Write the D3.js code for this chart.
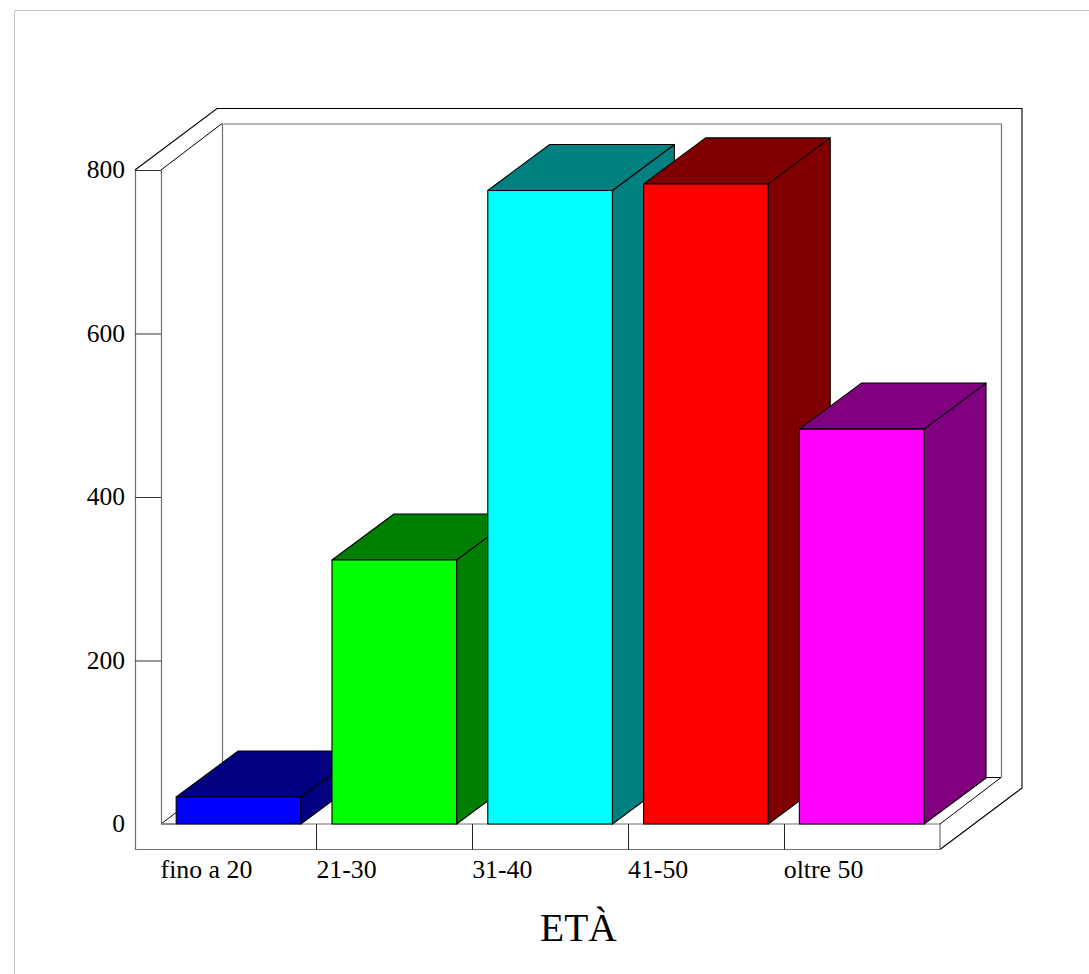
<!DOCTYPE html>
<html><head><meta charset="utf-8">
<script src="https://cdnjs.cloudflare.com/ajax/libs/d3/7.8.5/d3.min.js"></script>
<style>html,body{margin:0;padding:0;background:#fff}svg{display:block}text{font-family:"Liberation Serif",serif;fill:#000}</style>
</head><body><svg id="c" width="1089" height="974"></svg>
<script>
const categories = ["fino a 20","21-30","31-40","41-50","oltre 50"];
const values = [33,323,775,783,483];
const yTicks = [0,200,400,600,800];
const frontColors = ["#0000ff","#00ff00","#00ffff","#ff0000","#ff00ff"];
const sideColors = ["#000080","#008000","#008080","#800000","#800080"];
const xTitle = "ETÀ";

const svg = d3.select("#c");
const x = d3.scaleBand().domain(categories).range([160.6,939.6]).paddingInner(0.2).paddingOuter(0.1);
const band = d3.scaleBand().domain(categories).range([160.6,939.6]);
const y = d3.scaleLinear().domain([0,800]).range([824,170]);
const grey="#6e6e6e";
const wall={dx:61,dy:-46.5}, outer={dx:82,dy:-61.5}, barD={dx:62,dy:-46};
const x0=161, x1=940, y0=y(0), y1=y(800), bot=849.5, left=135;
const line=(pts,stroke,w=1.2)=>svg.append("path").attr("d",d3.line()(pts)).attr("fill","none").attr("stroke",stroke).attr("stroke-width",w);

// page frame
line([[14.5,974],[14.5,10.5],[1089,10.5]],"#c4c4c4",1);

// walls
line([[x0,y0],[x0+wall.dx,y0+wall.dy],[x1+wall.dx,y0+wall.dy],[x1,y0]],"#000",1);
line([[x0+.5,y1],[x0+.5,y0],[x1,y0]],grey);
line([[x0+wall.dx+.5,y0+wall.dy],[x0+wall.dx+.5,y1+wall.dy+.5],[x1+wall.dx+.5,y1+wall.dy+.5],[x1+wall.dx+.5,y0+wall.dy]],grey);
line([[x0,y1],[x0+wall.dx,y1+wall.dy]],"#000",1);
// outer shell
line([[left,y1],[left+outer.dx,y1+outer.dy],[left+outer.dx+805,y1+outer.dy],[left+outer.dx+805,bot+outer.dy],[x1,bot]],"#000",1.1);
line([[left+.5,y1],[left+.5,bot],[x1,bot],[x1,y0]],grey);
yTicks.filter(t=>t>0).forEach(t=>line([[left,y(t)+.5],[x0,y(t)+.5]],"#333",1));
categories.slice(1).forEach(c=>line([[Math.round(band(c))+.5,y0],[Math.round(band(c))+.5,bot]],"#222",1));

// bars
categories.forEach((c,i)=>{
  const l=x(c), r=l+x.bandwidth(), t=y(values[i]), b=y0;
  const g=svg.append("g").attr("stroke","#000").attr("stroke-width",1.1).attr("stroke-linejoin","round");
  g.append("polygon").attr("points",[[r,t],[r+barD.dx,t+barD.dy],[r+barD.dx,b+barD.dy],[r,b]].join(" ")).attr("fill",sideColors[i]);
  g.append("polygon").attr("points",[[l,t],[l+barD.dx,t+barD.dy],[r+barD.dx,t+barD.dy],[r,t]].join(" ")).attr("fill",sideColors[i]);
  g.append("rect").attr("x",l).attr("y",t).attr("width",x.bandwidth()).attr("height",b-t).attr("fill",frontColors[i]);
});
line([[x0,y0],[x(categories[0]),y0]],grey);

// labels
yTicks.forEach(t=>svg.append("text").attr("x",125).attr("y",y(t)+8).attr("text-anchor","end").attr("font-size",25.5).text(t));
categories.forEach(c=>svg.append("text").attr("x",band(c)).attr("y",878).attr("font-size",25.8).text(c));
svg.append("text").attr("x",578.5).attr("y",941).attr("text-anchor","middle").attr("font-size",39.5).text(xTitle);
</script></body></html>
